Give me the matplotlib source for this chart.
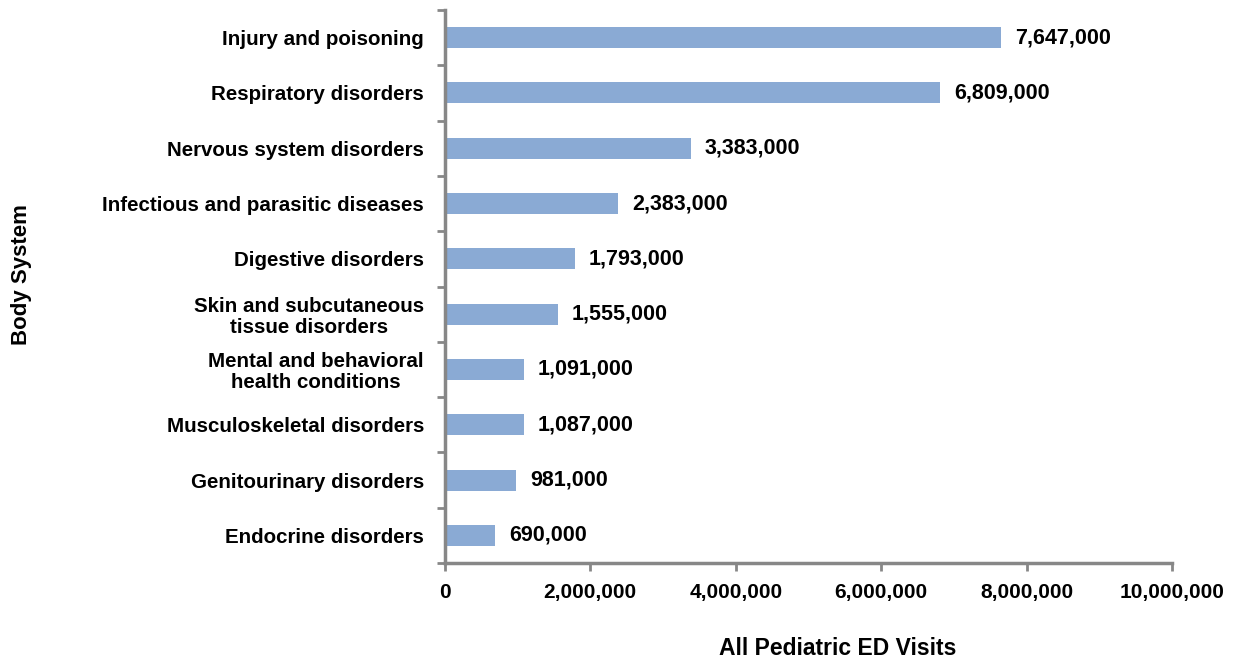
import matplotlib
matplotlib.use('Agg')
import matplotlib.pyplot as plt
import numpy as np

categories = ['Injury and poisoning', 'Respiratory disorders', 'Nervous system disorders',
              'Infectious and parasitic diseases', 'Digestive disorders',
              'Skin and subcutaneous\ntissue disorders', 'Mental and behavioral\nhealth conditions',
              'Musculoskeletal disorders', 'Genitourinary disorders', 'Endocrine disorders']
visits = [7647000, 6809000, 3383000, 2383000, 1793000, 1555000, 1091000, 1087000, 981000, 690000]
xticks = [0, 2000000, 4000000, 6000000, 8000000, 10000000]

plt.rcParams['font.family'] = ['Liberation Sans', 'DejaVu Sans']
plt.rcParams['font.weight'] = 'bold'

fig = plt.figure(figsize=(12.39, 6.64), dpi=100)
ax = fig.add_axes([0.359, 0.152, 0.587, 0.833])

y = np.arange(len(categories))[::-1]
ax.barh(y, visits, height=0.38, color='#8AAAD4')
for yi, v in zip(y, visits):
    ax.annotate('{:,}'.format(v), (v, yi), xytext=(10, 0), textcoords='offset points',
                va='center', ha='left', fontsize=15.5, fontweight='bold')

ax.set_xlim(0, 10000000)
ax.set_ylim(-0.5, len(categories) - 0.5)
ax.set_yticks(y)
ax.set_yticklabels(categories, fontsize=14.8, fontweight='bold', ha='right', multialignment='center',
                   linespacing=1.1)
ax.set_yticks(np.arange(-0.5, len(categories), 1), minor=True)
ax.tick_params(axis='y', which='major', length=0, pad=15)
ax.tick_params(axis='y', which='minor', length=6, width=2, color='#878787', direction='out')
ax.set_xticks(xticks)
ax.set_xticklabels(['{:,}'.format(t) for t in xticks], fontsize=15, fontweight='bold')
ax.tick_params(axis='x', length=6, width=2, color='#878787', direction='out', pad=8)

for s in ['top', 'right']:
    ax.spines[s].set_visible(False)
for s in ['left', 'bottom']:
    ax.spines[s].set_color('#878787')
    ax.spines[s].set_linewidth(2.5)

fig.text(0.676, 0.024, 'All Pediatric ED Visits', ha='center', va='center', fontsize=16.5, fontweight='bold')
fig.text(0.017, 0.586, 'Body System', rotation=90, va='center', ha='center', fontsize=16, fontweight='bold')

fig.savefig('out.png', dpi=100)
